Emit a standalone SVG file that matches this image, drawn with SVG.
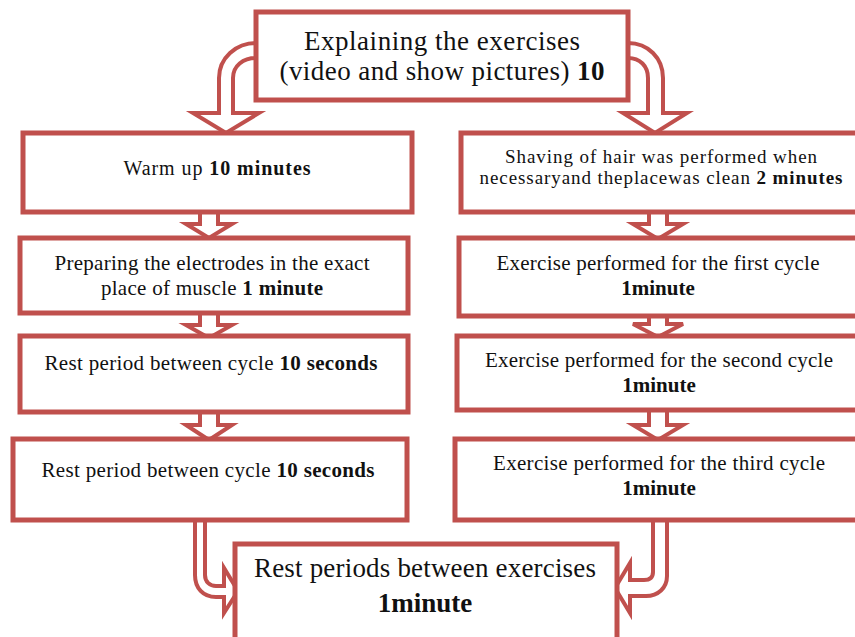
<svg xmlns="http://www.w3.org/2000/svg" width="855" height="637" viewBox="0 0 855 637" font-family="Liberation Serif">
<style>
.box{fill:#fff;stroke:#c0504d;stroke-width:5}
.arr{fill:#fff;stroke:#c0504d;stroke-width:4;stroke-linejoin:miter}
text{fill:#111;text-anchor:middle}
.b{font-weight:bold}
.t27{font-size:27px}
.t21{font-size:21px}
.t20{font-size:20px}
.t19{font-size:19px}
</style>
<rect width="855" height="637" fill="#fff"/>
<g id="connectors">
<path class="arr" d="M256,43 C236,43 219,58 219,78 L219,113 L193,113 L226,133 L259,113 L233,113 L233,78 C233,66 243,58 256,58 Z"/>
<path class="arr" d="M628,43 C648,43 663,58 663,78 L663,113 L687,113 L655,133 L623,113 L648,113 L648,78 C648,66 640,58 628,58 Z"/>
<path class="arr" d="M200,210 L200,224 L186,224 L209,238 L232,224 L218,224 L218,210"/>
<path class="arr" d="M200,312 L200,325 L186,325 L209,338 L232,325 L218,325 L218,312"/>
<path class="arr" d="M200,410 L200,425 L186,425 L209,440 L232,425 L218,425 L218,410"/>
<path class="arr" d="M649,210 L649,224 L633,224 L658,239 L683,224 L667,224 L667,210"/>
<path class="arr" d="M649,315 L649,324 L633,324 L658,337 L683,324 L667,324 L667,315"/>
<path class="arr" d="M649,410 L649,425 L633,425 L658,440 L683,425 L667,425 L667,410"/>
<path class="arr" d="M195,518 L195,575 C195,588 203,597 216,597 L224,597 L224,613 L238,591 L224,568 L224,586 L216,586 C210,586 205,582 205,575 L205,518 Z"/>
<path class="arr" d="M653,518 L653,572 C653,577 650,580 644,580 L630,580 L630,563 L615,588 L630,613 L630,596 L646,596 C658,596 667,588 667,576 L667,518 Z"/>
</g>
<g id="n-explain">
<rect class="box" x="256" y="12" width="372" height="88"/>
<text class="t27" x="442" y="50" textLength="276" lengthAdjust="spacing">Explaining the exercises</text>
<text class="t27" x="442" y="80" textLength="325" lengthAdjust="spacing">(video and show pictures) <tspan class="b">10</tspan></text>
</g>
<g id="n-warmup">
<rect class="box" x="23" y="133" width="389" height="79"/>
<text class="t20" x="217" y="175" textLength="187" lengthAdjust="spacing">Warm up <tspan class="b">10 minutes</tspan></text>
</g>
<g id="n-prepare">
<rect class="box" x="20" y="238" width="388" height="75"/>
<text class="t21" x="212" y="270" textLength="315" lengthAdjust="spacing">Preparing  the electrodes  in the exact</text>
<text class="t21" x="212" y="295" textLength="222" lengthAdjust="spacing">place of muscle <tspan class="b">1 minute</tspan></text>
</g>
<g id="n-rest1">
<rect class="box" x="20" y="336" width="388" height="76"/>
<text class="t21" x="211" y="370" textLength="333" lengthAdjust="spacing">Rest period between cycle <tspan class="b">10 seconds</tspan></text>
</g>
<g id="n-rest2">
<rect class="box" x="13" y="439" width="394" height="81"/>
<text class="t21" x="208" y="477" textLength="333" lengthAdjust="spacing">Rest period between cycle <tspan class="b">10 seconds</tspan></text>
</g>
<g id="n-shaving">
<rect class="box" x="461" y="133" width="400" height="79"/>
<text class="t19" x="661" y="163" textLength="312" lengthAdjust="spacing">Shaving of hair was performed when</text>
<text class="t19" x="661" y="184" textLength="363" lengthAdjust="spacing">necessaryand theplacewas clean <tspan class="b">2 minutes</tspan></text>
</g>
<g id="n-first">
<rect class="box" x="459" y="238" width="402" height="78"/>
<text class="t21" x="658" y="270" textLength="323" lengthAdjust="spacing">Exercise performed for the first cycle</text>
<text class="t21 b" x="658" y="295">1minute</text>
</g>
<g id="n-second">
<rect class="box" x="457" y="336" width="404" height="74"/>
<text class="t21" x="659" y="367" textLength="348" lengthAdjust="spacing">Exercise performed for the second cycle</text>
<text class="t21 b" x="659" y="392">1minute</text>
</g>
<g id="n-third">
<rect class="box" x="455" y="439" width="406" height="81"/>
<text class="t21" x="659" y="470" textLength="332" lengthAdjust="spacing">Exercise performed for the third cycle</text>
<text class="t21 b" x="659" y="495">1minute</text>
</g>
<g id="n-restex">
<rect class="box" x="235" y="544" width="382" height="100"/>
<text class="t27" x="425" y="577" textLength="342" lengthAdjust="spacing">Rest periods between exercises</text>
<text class="t27 b" x="425" y="612">1minute</text>
</g>
</svg>
